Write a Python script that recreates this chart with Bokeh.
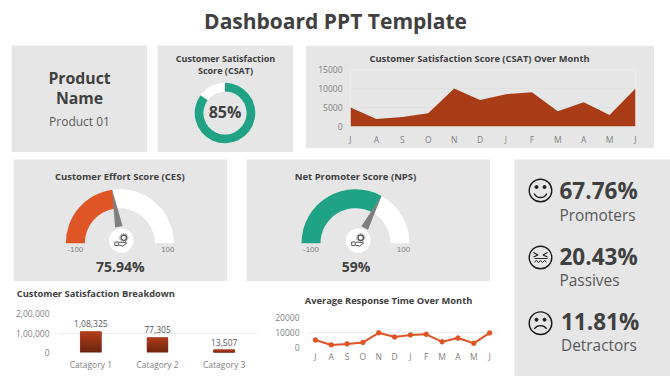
import math
from bokeh.plotting import figure
from bokeh.layouts import row, column
from bokeh.models import Range1d, FactorRange, FixedTicker
from bokeh.core.properties import value
from bokeh.embed import file_html
from bokeh.resources import INLINE

# ---------- data ----------
months = ["J", "A", "S", "O", "N", "D", "J", "F", "M", "A", "M", "J"]
csat_month = [5000, 2000, 2500, 3500, 10000, 7000, 8500, 9000, 4000, 6400, 3000, 10000]
response_month = [5000, 1700, 2400, 3400, 9800, 7000, 8400, 8800, 3800, 6300, 2800, 9700]
categories = ["Catagory 1", "Catagory 2", "Catagory 3"]
breakdown = [108325, 77305, 13507]
breakdown_labels = ["1,08,325", "77,305", "13,507"]
breakdown_ticks = {0: "0", 100000: "1,00,000", 200000: "2,00,000"}
csat_pct = 85
ces_needle = -9
nps_needle = 32
ces_label = "75.94%"
nps_label = "59%"
stats = [("67.76%", "Promoters"), ("20.43%", "Passives"), ("11.81%", "Detractors")]

BG = "#e6e6e6"
FONT = "Open Sans"
DARK = "#404040"
GREY = "#7f7f7f"
RUST = "#a93b17"
ORANGE = "#e05525"
TEAL = "#1fa384"
H = 376


def Y(py):
    return H - py


def panel(x, y, w, h, bg=BG, margin=(0, 0, 0, 0)):
    return figure(width=w, height=h, x_range=Range1d(x, x + w),
                  y_range=Range1d(Y(y + h), Y(y)), toolbar_location=None,
                  output_backend="svg", min_border=0, outline_line_color=None,
                  background_fill_color=bg, border_fill_color=bg,
                  x_axis_type=None, y_axis_type=None, margin=margin)


def txt(p, x, y, s, size, color=DARK, bold=False, align="center", font=FONT):
    p.text(x=[x], y=[Y(y - 0.09 * size)], text=[s], text_font=value(font),
           text_font_size=f"{size}px", text_color=color,
           text_font_style="bold" if bold else "normal",
           text_align=align, text_baseline="middle")


def chart(w, h, l, r, t, b, bg, margin=(0, 0, 0, 0), **kw):
    p = figure(width=w, height=h, toolbar_location=None, output_backend="svg",
               min_border_left=l, min_border_right=r, min_border_top=t,
               min_border_bottom=b, outline_line_color=None,
               background_fill_color=bg, border_fill_color=bg, margin=margin, **kw)
    return p


def style_axes(p, ygrid, standoff_y, standoff_x, size="8.5px"):
    p.xgrid.visible = False
    p.ygrid.grid_line_color = ygrid
    p.ygrid.grid_line_width = 1
    for ax in (p.xaxis[0], p.yaxis[0]):
        ax.axis_line_color = None
        ax.major_tick_line_color = None
        ax.minor_tick_line_color = None
        ax.major_tick_in = 0
        ax.major_tick_out = 0
        ax.minor_tick_in = 0
        ax.minor_tick_out = 0
        ax.major_label_text_font = FONT
        ax.major_label_text_font_size = size
        ax.major_label_text_color = GREY
    p.yaxis[0].major_label_standoff = standoff_y
    p.xaxis[0].major_label_standoff = standoff_x


def chart_title(p, s, offset, standoff, size=9.3):
    p.title.text = s
    p.title.align = "left"
    p.title.offset = offset
    p.title.standoff = standoff
    p.title.text_font = FONT
    p.title.text_font_size = f"{size}px"
    p.title.text_font_style = "bold"
    p.title.text_color = DARK


# ---------- page title ----------
head = panel(0, 0, 670, 45, bg="#ffffff")
txt(head, 335, 22, "Dashboard PPT Template", 21, bold=True)

# ---------- product ----------
prod = panel(11, 45, 136, 107, margin=(0, 0, 0, 11))
txt(prod, 79, 78.5, "Product", 15.8, bold=True)
txt(prod, 79, 98.5, "Name", 15.8, bold=True)
txt(prod, 79, 122.5, "Product 01", 12, color="#595959")

# ---------- CSAT donut ----------
don = panel(157, 45, 136, 107, margin=(0, 0, 0, 10))
txt(don, 225, 58.5, "Customer Satisfaction", 9, bold=True)
txt(don, 225, 70.5, "Score (CSAT)", 9, bold=True)
cx, cy = 224.5, Y(112.5)
don.annular_wedge(x=[cx], y=[cy], inner_radius=21.5, outer_radius=30.3,
                  start_angle=0, end_angle=2 * math.pi, fill_color="#ffffff", line_color=None)
top = math.pi / 2
don.annular_wedge(x=[cx], y=[cy], inner_radius=21.5, outer_radius=30.3,
                  start_angle=top - 2 * math.pi * csat_pct / 100, end_angle=top,
                  fill_color=TEAL, line_color=None)
txt(don, 224.5, 113, f"{csat_pct}%", 16, bold=True)

# ---------- CSAT over month ----------
xs = list(range(len(months)))
area = chart(349, 103, 45, 19, 24, 22, BG, margin=(0, 0, 4, 12),
             x_range=Range1d(0, 11), y_range=Range1d(0, 15000))
area.varea(x=xs, y1=[0] * len(xs), y2=csat_month, fill_color=RUST)
area.xaxis[0].ticker = FixedTicker(ticks=xs)
area.xaxis[0].major_label_overrides = {i: m for i, m in enumerate(months)}
area.yaxis[0].ticker = FixedTicker(ticks=[0, 5000, 10000, 15000])
style_axes(area, "#e0e0e0", 8, 7)
chart_title(area, "Customer Satisfaction Score (CSAT) Over Month", 19, 9)


# ---------- gauges ----------
def gauge(x, w, margin, cx, cxh, title, needle, label, color):
    p = panel(x, 159, w, 122, margin=margin)
    txt(p, cx, 176.7, title, 9.5, bold=True)
    by = Y(242.7)
    ang = math.pi * (100 - needle) / 200
    p.annular_wedge(x=[cx], y=[by], inner_radius=35, outer_radius=54, start_angle=0,
                    end_angle=ang, fill_color="#ffffff", line_color=None)
    p.annular_wedge(x=[cx], y=[by], inner_radius=35, outer_radius=54, start_angle=ang,
                    end_angle=math.pi, fill_color=color, line_color=None)
    # needle, pointing along the value's angle
    hy = Y(240)
    tipx, tipy = cx + 54 * math.cos(ang), by + 54 * math.sin(ang)
    dx, dy = tipx - cxh, tipy - hy
    n = math.hypot(dx, dy)
    ux, uy = dx / n, dy / n
    bx, bly = cxh + ux * 14, hy + uy * 14
    p.patch(x=[tipx, bx - uy * 3.8, bx + uy * 3.8], y=[tipy, bly + ux * 3.8, bly - ux * 3.8],
            fill_color=GREY, line_color=None)
    # hub with hand-and-gear icon
    p.circle(x=[cxh], y=[hy], radius=12.3, fill_color="#ffffff", line_color=None)
    ic = "#595959"
    p.circle(x=[cxh + 2.5], y=[hy + 2.8], radius=2.7, fill_color="#ffffff", line_color=ic, line_width=1.4)
    p.circle(x=[cxh + 2.5], y=[hy + 2.8], radius=4.1, fill_alpha=0, line_color=ic, line_width=0.8, line_dash="1 1")
    p.line(x=[cxh - 2.5, cxh + 1, cxh + 5.5, cxh + 1.5, cxh - 2.5],
           y=[hy - 1.8, hy - 1.8, hy - 2.5, hy - 5.5, hy - 4.6], line_color=ic, line_width=1)
    p.quad(left=[cxh - 6.5], right=[cxh - 3], bottom=[hy - 5], top=[hy - 1.5], fill_color="#ffffff",
           line_color=ic, line_width=1)
    txt(p, cx - 44.5, 250, "-100", 8, color=GREY, font="Liberation Sans")
    txt(p, cx + 48, 250, "100", 8, color=GREY, font="Liberation Sans")
    txt(p, cx + 0.5, 267, label, 14, bold=True)
    return p


ces = gauge(13, 214, (7, 0, 0, 13), 119.3, 120.8, "Customer Effort Score (CES)", ces_needle, ces_label, ORANGE)
nps = gauge(246, 244, (7, 0, 0, 19), 355, 357.7, "Net Promoter Score (NPS)", nps_needle, nps_label, TEAL)

# ---------- breakdown bars ----------
bars_head = panel(0, 281, 260, 26, bg="#ffffff")
txt(bars_head, 16.3, 294.3, "Customer Satisfaction Breakdown", 9.3, bold=True, align="left")
bars = chart(260, 69, 57, 3, 6, 24, "#ffffff", x_range=FactorRange(*categories),
             y_range=Range1d(0, 200000))
bars.x_range.range_padding = 0
bars.x_range.factor_padding = 0
STEPS = 14
c0, c1 = (0x6a, 0x25, 0x10), (0xb4, 0x40, 0x1c)
bars.vbar(x=categories, top=breakdown, width=0.316, fill_color="#8a3014", line_color=None)
for i in range(STEPS):
    t = (i + 0.5) / STEPS
    col = "#%02x%02x%02x" % tuple(round(a + (b - a) * t) for a, b in zip(c0, c1))
    bars.vbar(x=categories, bottom=[v * i / STEPS for v in breakdown],
              top=[v * (i + 1) / STEPS for v in breakdown], width=0.316,
              fill_color=col, line_color=col, line_width=0.3)
bars.text(x=categories, y=breakdown, text=breakdown_labels, y_offset=-4,
          text_font=value(FONT), text_font_size="8.5px", text_color="#595959",
          text_align="center", text_baseline="bottom")
bars.yaxis[0].ticker = FixedTicker(ticks=list(breakdown_ticks))
bars.yaxis[0].major_label_overrides = breakdown_ticks
style_axes(bars, "#ececec", 8, 6)

# ---------- response line ----------
line_head = panel(260, 281, 254, 26, bg="#ffffff")
txt(line_head, 304.3, 300.7, "Average Response Time Over Month", 9.3, bold=True, align="left")
line = chart(254, 69, 47, 17, 10, 29, "#ffffff", x_range=Range1d(-0.5, 11.5),
             y_range=Range1d(0, 20000))
line.line(xs, response_month, line_color=ORANGE, line_width=2)
line.scatter(xs, response_month, size=4.5, fill_color=ORANGE, line_color=ORANGE)
line.xaxis[0].ticker = FixedTicker(ticks=xs)
line.xaxis[0].major_label_overrides = {i: m for i, m in enumerate(months)}
line.yaxis[0].ticker = FixedTicker(ticks=[0, 10000, 20000])
style_axes(line, "#ececec", 8, 3)

# ---------- right-hand stats ----------
side = panel(514, 159, 156, 217, margin=(7, 0, 0, 0))
ink = "#1a1a1a"
face_y = [190, 257, 322.7]
for fy in face_y:
    side.circle(x=[540], y=[Y(fy)], radius=11.3, fill_alpha=0, line_color=ink, line_width=1.4)
# smile
side.scatter(x=[536, 544], y=[Y(186.5)] * 2, size=3, fill_color=ink, line_color=ink)
side.arc(x=[540], y=[Y(190)], radius=7, start_angle=math.radians(205), end_angle=math.radians(335),
         line_color=ink, line_width=1.3)
# squint + gritted teeth
fy = face_y[1]
side.multi_line(xs=[[533, 537.5, 533], [547, 542.5, 547]],
                ys=[[Y(fy - 5), Y(fy - 2.5), Y(fy - 0.5)], [Y(fy - 5), Y(fy - 2.5), Y(fy - 0.5)]],
                line_color=ink, line_width=1.1)
side.line(x=[534, 547], y=[Y(fy + 1)] * 2, line_color=ink, line_width=0.9)
side.line(x=[534, 536, 538, 540, 542, 544, 546], y=[Y(fy + v) for v in (4.5, 3, 5, 3, 5, 3, 4.5)],
          line_color=ink, line_width=1)
# frown
fy = face_y[2]
side.scatter(x=[536, 544], y=[Y(fy - 3.5)] * 2, size=3, fill_color=ink, line_color=ink)
side.arc(x=[540], y=[Y(fy + 10)], radius=7.5, start_angle=math.radians(35), end_angle=math.radians(145),
         line_color=ink, line_width=1.3)
for (big, small), by, sy, tx in zip(stats, (192.5, 258.3, 323.5), (216, 281, 346.5), (559, 559, 560.5)):
    txt(side, tx, by, big, 22.5, bold=True, align="left")
    txt(side, tx, sy, small, 15.4, color="#595959", align="left")

left = column(row(ces, nps),
              row(column(column(bars_head), column(bars)),
                  column(column(line_head), column(line))),
              width=514)
page = column(head,
              row(column(prod), column(don), column(area)),
              row(left, side))
open("out.html", "w").write(file_html(page, INLINE))
